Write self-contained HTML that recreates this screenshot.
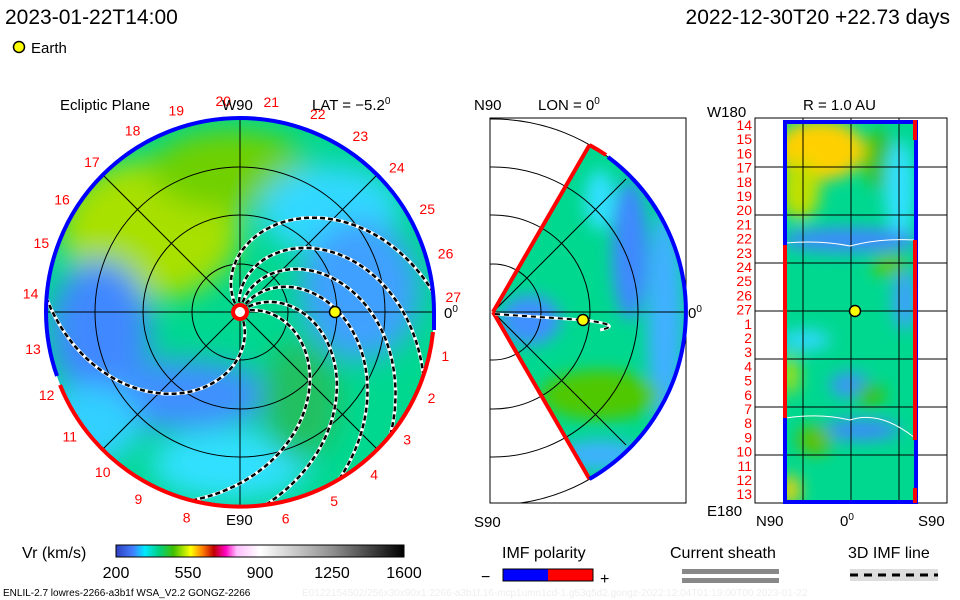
<!DOCTYPE html>
<html><head><meta charset="utf-8"><style>
body{margin:0;background:#fff;}
svg{display:block;font-family:"Liberation Sans",sans-serif;}
</style></head><body>
<svg id="s" width="960" height="600" viewBox="0 0 960 600">
<defs>
<filter id="bl" x="-50%" y="-50%" width="200%" height="200%"><feGaussianBlur stdDeviation="14"/></filter>
<filter id="bl2" x="-50%" y="-50%" width="200%" height="200%"><feGaussianBlur stdDeviation="8"/></filter>
<clipPath id="disc"><circle cx="240" cy="312" r="194"/></clipPath>
<clipPath id="mbox"><rect x="490" y="118" width="196" height="385"/></clipPath>
<clipPath id="wedge"><path d="M493,312 L589.5,145 A193,193 0 0 1 589.5,479 Z"/></clipPath>
<clipPath id="rect"><rect x="785" y="120" width="131" height="382"/></clipPath>
<linearGradient id="cb" x1="0" x2="1">
<stop offset="0" stop-color="#3040c0"/><stop offset="0.06" stop-color="#4080ff"/><stop offset="0.1" stop-color="#00e8ff"/><stop offset="0.15" stop-color="#00d080"/><stop offset="0.2" stop-color="#40c000"/><stop offset="0.26" stop-color="#ffff00"/><stop offset="0.3" stop-color="#ff8000"/><stop offset="0.34" stop-color="#c00000"/><stop offset="0.38" stop-color="#ff00c0"/><stop offset="0.42" stop-color="#ffc0ff"/><stop offset="0.5" stop-color="#ffffff"/><stop offset="0.75" stop-color="#909090"/><stop offset="1" stop-color="#000"/>
</linearGradient>
</defs>

<text x="5" y="24" font-size="21">2023-01-22T14:00</text>
<text x="950" y="24" font-size="21" text-anchor="end">2022-12-30T20 +22.73 days</text>
<circle cx="19" cy="47" r="5.5" fill="#ff0" stroke="#000" stroke-width="1.5"/>
<text x="31" y="53" font-size="15">Earth</text>

<g>
<g clip-path="url(#disc)">
<rect x="40" y="110" width="400" height="400" fill="#00d890"/>
<g filter="url(#bl)">
<ellipse cx="150" cy="230" rx="90" ry="70" fill="#a8e000"/>
<ellipse cx="230" cy="170" rx="80" ry="40" fill="#70d000"/>
<ellipse cx="100" cy="330" rx="50" ry="70" fill="#4088ff"/>
<ellipse cx="180" cy="395" rx="90" ry="35" fill="#4090ff"/>
<ellipse cx="330" cy="210" rx="70" ry="45" fill="#30d8ff"/>
<ellipse cx="360" cy="290" rx="60" ry="70" fill="#40a0ff"/>
<ellipse cx="230" cy="465" rx="80" ry="35" fill="#30e0ff"/>
<ellipse cx="300" cy="400" rx="40" ry="60" fill="#20c060"/>
<ellipse cx="90" cy="425" rx="50" ry="40" fill="#30d0ff"/>
</g>
</g>
<g fill="none" stroke="#000" stroke-width="1">
<circle cx="240" cy="312" r="48"/><circle cx="240" cy="312" r="97"/><circle cx="240" cy="312" r="145"/>
<line x1="46" y1="312" x2="434" y2="312"/><line x1="240" y1="118" x2="240" y2="506"/>
<line x1="103" y1="175" x2="377" y2="449"/><line x1="103" y1="449" x2="377" y2="175"/>
</g>
<g id="spirals" clip-path="url(#disc)"></g>
<path d="M240,118 A194,194 0 0 0 46,312 A194,194 0 0 0 57,376" fill="none" stroke="#00f" stroke-width="4"/>
<path d="M240,118 A194,194 0 0 1 434,312 L434,330" fill="none" stroke="#00f" stroke-width="4"/>
<path d="M433,332 A194,194 0 0 1 60,385" fill="none" stroke="#f00" stroke-width="4"/>
<circle cx="240" cy="312" r="9" fill="#f00"/><circle cx="240" cy="312" r="5" fill="#fff"/>
<circle cx="335" cy="312" r="5.5" fill="#ff0" stroke="#000" stroke-width="1.5"/>
<g id="clabels" font-size="14" fill="#f00"></g>
<text x="60" y="110" font-size="15">Ecliptic Plane</text>
<text x="222" y="110" font-size="15">W90</text>
<text x="312" y="110" font-size="15">LAT = −5.2<tspan font-size="10" dy="-6">0</tspan></text>
<text x="226" y="525" font-size="15">E90</text>
<text x="444" y="318" font-size="15">0<tspan font-size="10" dy="-6">0</tspan></text>
</g>

<g>
<rect x="490" y="118" width="196" height="385" fill="#fff" stroke="#000"/>
<g clip-path="url(#wedge)">
<rect x="490" y="140" width="200" height="345" fill="#00d890"/>
<g filter="url(#bl2)">
<ellipse cx="630" cy="250" rx="18" ry="70" fill="#4088ff"/>
<ellipse cx="665" cy="320" rx="18" ry="110" fill="#40b0ff"/>
<ellipse cx="530" cy="320" rx="30" ry="25" fill="#4090ff"/>
<ellipse cx="600" cy="395" rx="60" ry="25" fill="#50c800"/>
<ellipse cx="600" cy="455" rx="40" ry="15" fill="#40b0ff"/>
<ellipse cx="600" cy="200" rx="15" ry="30" fill="#30e0ff"/>
</g>
</g>
<g fill="none" stroke="#000" stroke-width="1" clip-path="url(#mbox)">
<circle cx="493" cy="312" r="48"/><circle cx="493" cy="312" r="97"/><circle cx="493" cy="312" r="145"/><circle cx="493" cy="312" r="193"/>
<line x1="493" y1="312" x2="686" y2="312"/><line x1="493" y1="312" x2="626" y2="179"/><line x1="493" y1="312" x2="626" y2="445"/>
</g>
<path d="M493,312 L589.5,145" stroke="#f00" stroke-width="4" fill="none"/>
<path d="M493,312 L589.5,479" stroke="#f00" stroke-width="4" fill="none"/>
<path d="M589.5,145 A193,193 0 0 1 606,155" stroke="#f00" stroke-width="4" fill="none"/>
<path d="M608,157 A193,193 0 0 1 589.5,479" stroke="#00f" stroke-width="4" fill="none"/>
<path d="M495,314 L583,320 Q625,325 600,330" stroke="#fff" stroke-width="3" fill="none"/>
<path d="M495,314 L583,320 Q625,325 600,330" stroke="#000" stroke-width="2" stroke-dasharray="5,4" fill="none"/>
<circle cx="583" cy="320" r="5.5" fill="#ff0" stroke="#000" stroke-width="1.5"/>
<text x="474" y="110" font-size="15">N90</text>
<text x="538" y="110" font-size="15">LON = 0<tspan font-size="10" dy="-6">0</tspan></text>
<text x="474" y="527" font-size="15">S90</text>
<text x="688" y="318" font-size="15">0<tspan font-size="10" dy="-6">0</tspan></text>
</g>

<g>
<rect x="755" y="118" width="192" height="385" fill="#fff" stroke="#000"/>
<g clip-path="url(#rect)">
<rect x="785" y="118" width="131" height="385" fill="#00d890"/>
<g filter="url(#bl2)">
<ellipse cx="820" cy="150" rx="45" ry="30" fill="#ffd000"/>
<ellipse cx="800" cy="190" rx="20" ry="30" fill="#c0e000"/>
<ellipse cx="880" cy="160" rx="15" ry="30" fill="#40c000"/>
<ellipse cx="900" cy="190" rx="15" ry="50" fill="#30e0ff"/>
<ellipse cx="850" cy="240" rx="70" ry="12" fill="#4088ff"/>
<ellipse cx="890" cy="265" rx="18" ry="12" fill="#60c800"/>
<ellipse cx="805" cy="340" rx="25" ry="10" fill="#30d8ff"/>
<ellipse cx="850" cy="385" rx="20" ry="12" fill="#4090ff"/>
<ellipse cx="790" cy="375" rx="8" ry="20" fill="#c0e000"/>
<ellipse cx="870" cy="395" rx="15" ry="12" fill="#40c000"/>
<ellipse cx="860" cy="430" rx="40" ry="10" fill="#4088ff"/>
<ellipse cx="815" cy="440" rx="18" ry="15" fill="#60c000"/>
<ellipse cx="790" cy="490" rx="10" ry="15" fill="#ffd000"/>
<ellipse cx="905" cy="300" rx="12" ry="30" fill="#40a0ff"/>
</g>
</g>
<g stroke="#000" stroke-width="1">
<line x1="755" y1="167" x2="947" y2="167"/><line x1="755" y1="215" x2="947" y2="215"/><line x1="755" y1="263" x2="947" y2="263"/>
<line x1="755" y1="311" x2="947" y2="311"/><line x1="755" y1="359" x2="947" y2="359"/><line x1="755" y1="407" x2="947" y2="407"/><line x1="755" y1="455" x2="947" y2="455"/>
<line x1="803" y1="118" x2="803" y2="503"/><line x1="851" y1="118" x2="851" y2="503"/><line x1="899" y1="118" x2="899" y2="503"/>
</g>
<path d="M786,243 Q820,240 850,246 Q880,238 915,240" stroke="#fff" fill="none"/>
<path d="M786,418 Q820,413 850,420 Q880,410 915,438" stroke="#fff" fill="none"/>
<rect x="785" y="122" width="131" height="380" fill="none" stroke="#00f" stroke-width="4"/>
<line x1="785" y1="245" x2="785" y2="418" stroke="#f00" stroke-width="4"/>
<line x1="915" y1="240" x2="915" y2="440" stroke="#f00" stroke-width="4"/>
<line x1="915" y1="120" x2="915" y2="140" stroke="#f00" stroke-width="4"/>
<line x1="915" y1="488" x2="915" y2="503" stroke="#f00" stroke-width="4"/>
<circle cx="855" cy="311" r="5.5" fill="#ff0" stroke="#000" stroke-width="1.5"/>
<g id="rlabels" font-size="14" fill="#f00" text-anchor="end"></g>
<text x="707" y="117" font-size="15">W180</text>
<text x="803" y="110" font-size="15">R = 1.0 AU</text>
<text x="707" y="516" font-size="15">E180</text>
<text x="756" y="526" font-size="15">N90</text>
<text x="840" y="526" font-size="15">0<tspan font-size="10" dy="-6">0</tspan></text>
<text x="918" y="526" font-size="15">S90</text>
</g>

<g>
<text x="22" y="558" font-size="16">Vr (km/s)</text>
<rect x="116" y="545" width="288" height="12" fill="url(#cb)" stroke="#000"/>
<g id="cbticks" font-size="16" text-anchor="middle"></g>
</g>
<g>
<text x="502" y="558" font-size="16">IMF polarity</text>
<rect x="503" y="569" width="45" height="12" fill="#00f"/><rect x="548" y="569" width="45" height="12" fill="#f00"/>
<rect x="503" y="569" width="90" height="12" fill="none" stroke="#000"/>
<text x="481" y="582" font-size="16">−</text><text x="600" y="584" font-size="16">+</text>
</g>
<g>
<text x="670" y="558" font-size="16">Current sheath</text>
<rect x="682" y="569" width="97" height="5" fill="#888"/><rect x="682" y="578" width="97" height="5" fill="#888"/>
</g>
<g>
<text x="848" y="558" font-size="16">3D IMF line</text>
<rect x="850" y="569" width="88" height="12" fill="#ddd"/>
<line x1="850" y1="575" x2="938" y2="575" stroke="#000" stroke-width="3" stroke-dasharray="8,6"/>
</g>
<text x="3" y="596" font-size="10">ENLIL-2.7 lowres-2266-a3b1f WSA_V2.2 GONGZ-2266</text>
<text x="302" y="596" font-size="10" fill="#eee">E0122154502/256x30x90x1:2266-a3b1f.16-mcp1umn1cd-1.g53q5d2.gongz-2022:12:04T01:19:00T00    2023-01-22</text>
</svg>
<script>
const ns="http://www.w3.org/2000/svg";
const cbValues=[200,550,900,1250,1600];
const cbMin=200,cbMax=1600;
const discLabels=["1","2","3","4","5","6","8","9","10","11","12","13","14","15","16","17","18","19","20","21","22","23","24","25","26","27"];
const discLabelAngles=[-12,-24,-37,-50,-63,-77,-104,-118,-131,-144,-157,-170,175,161,148,135,121,108,95,82,69,56,43,29,16,4];
const rLabels=["14","15","16","17","18","19","20","21","22","23","24","25","26","27","1","2","3","4","5","6","7","8","9","10","11","12","13"];
const spiralStarts=[10,32,55,75,95,120,290];

function cbX(v){return 116+(v-cbMin)/(cbMax-cbMin)*288;}
const cbt=document.getElementById('cbticks');
cbValues.forEach(v=>{const t=document.createElementNS(ns,'text');


t.setAttribute('x',cbX(v));t.setAttribute('y',578);t.textContent=v;cbt.appendChild(t);});

const cl=document.getElementById('clabels');
discLabels.forEach((l,i)=>{const a=discLabelAngles[i]*Math.PI/180;const t=document.createElementNS(ns,'text');


t.setAttribute('x',240+212*Math.cos(a)-6);t.setAttribute('y',312-212*Math.sin(a)+5);t.textContent=l;cl.appendChild(t);});

const rl=document.getElementById('rlabels');
rLabels.forEach((l,i)=>{const t=document.createElementNS(ns,'text');


t.setAttribute('x',752);t.setAttribute('y',130+i*14.2);t.textContent=l;rl.appendChild(t);});

const sp=document.getElementById('spirals');
spiralStarts.forEach(s=>{let pts=[];for(let k=0;k<=220;k++){const r=10+k*0.92;if(r>196)break;const a=(s-(r-10)*0.62)*Math.PI/180;pts.push((240+r*Math.cos(a)).toFixed(1)+','+(312-r*Math.sin(a)).toFixed(1));}
const p1=document.createElementNS(ns,'polyline');p1.setAttribute('points',pts.join(' '));p1.setAttribute('fill','none');p1.setAttribute('stroke','#fff');p1.setAttribute('stroke-width','3.5');


sp.appendChild(p1);
const p2=document.createElementNS(ns,'polyline');p2.setAttribute('points',pts.join(' '));p2.setAttribute('fill','none');p2.setAttribute('stroke','#000');p2.setAttribute('stroke-width','2.5');p2.setAttribute('stroke-dasharray','5,3');


sp.appendChild(p2);});
</script>
</body></html>
